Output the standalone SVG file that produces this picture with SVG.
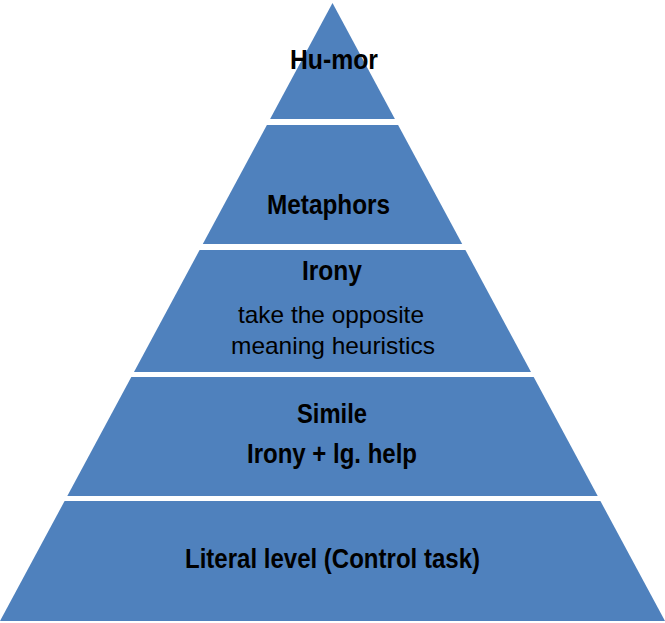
<svg xmlns="http://www.w3.org/2000/svg" width="665" height="623" viewBox="0 0 665 623">
  <style>
    .band { fill: #4F81BD; stroke: none; }
    .title { font-family: "Liberation Sans Narrow", "Liberation Sans", Arial, sans-serif; font-weight: bold; font-size: 27.5px; fill: #000; text-anchor: middle; }
    .note { font-family: "Liberation Sans Narrow", "Liberation Sans", Arial, sans-serif; font-size: 24px; fill: #000; text-anchor: middle; }
  </style>
  <rect width="665" height="623" fill="#ffffff"/>

  <!-- Pyramid levels, top to bottom -->
  <g id="level-humor">
    <polygon class="band" points="332.5,3 394.9,119 270.1,119"/>
    <text class="title" x="334" y="69" textLength="88" lengthAdjust="spacingAndGlyphs">Hu-mor</text>
  </g>

  <g id="level-metaphors">
    <polygon class="band" points="266.9,125 398.1,125 462.2,244 202.8,244"/>
    <text class="title" x="328.5" y="214" textLength="123" lengthAdjust="spacingAndGlyphs">Metaphors</text>
  </g>

  <g id="level-irony">
    <polygon class="band" points="199.6,250 465.4,250 531,372 134,372"/>
    <text class="title" x="332" y="280" textLength="60" lengthAdjust="spacingAndGlyphs">Irony</text>
    <text class="note" x="331" y="323" textLength="186" lengthAdjust="spacingAndGlyphs">take the opposite</text>
    <text class="note" x="333" y="354" textLength="204" lengthAdjust="spacingAndGlyphs">meaning heuristics</text>
  </g>

  <g id="level-simile">
    <polygon class="band" points="131.3,377 533.7,377 597.7,496 67.3,496"/>
    <text class="title" x="332" y="423" textLength="70" lengthAdjust="spacingAndGlyphs">Simile</text>
    <text class="title" x="332" y="463" textLength="170" lengthAdjust="spacingAndGlyphs">Irony + lg. help</text>
  </g>

  <g id="level-literal">
    <polygon class="band" points="64.6,501 600.4,501 665,621 0,621"/>
    <text class="title" x="332.5" y="568" textLength="295" lengthAdjust="spacingAndGlyphs">Literal level (Control task)</text>
  </g>

  <g id="connectors"/>
</svg>
